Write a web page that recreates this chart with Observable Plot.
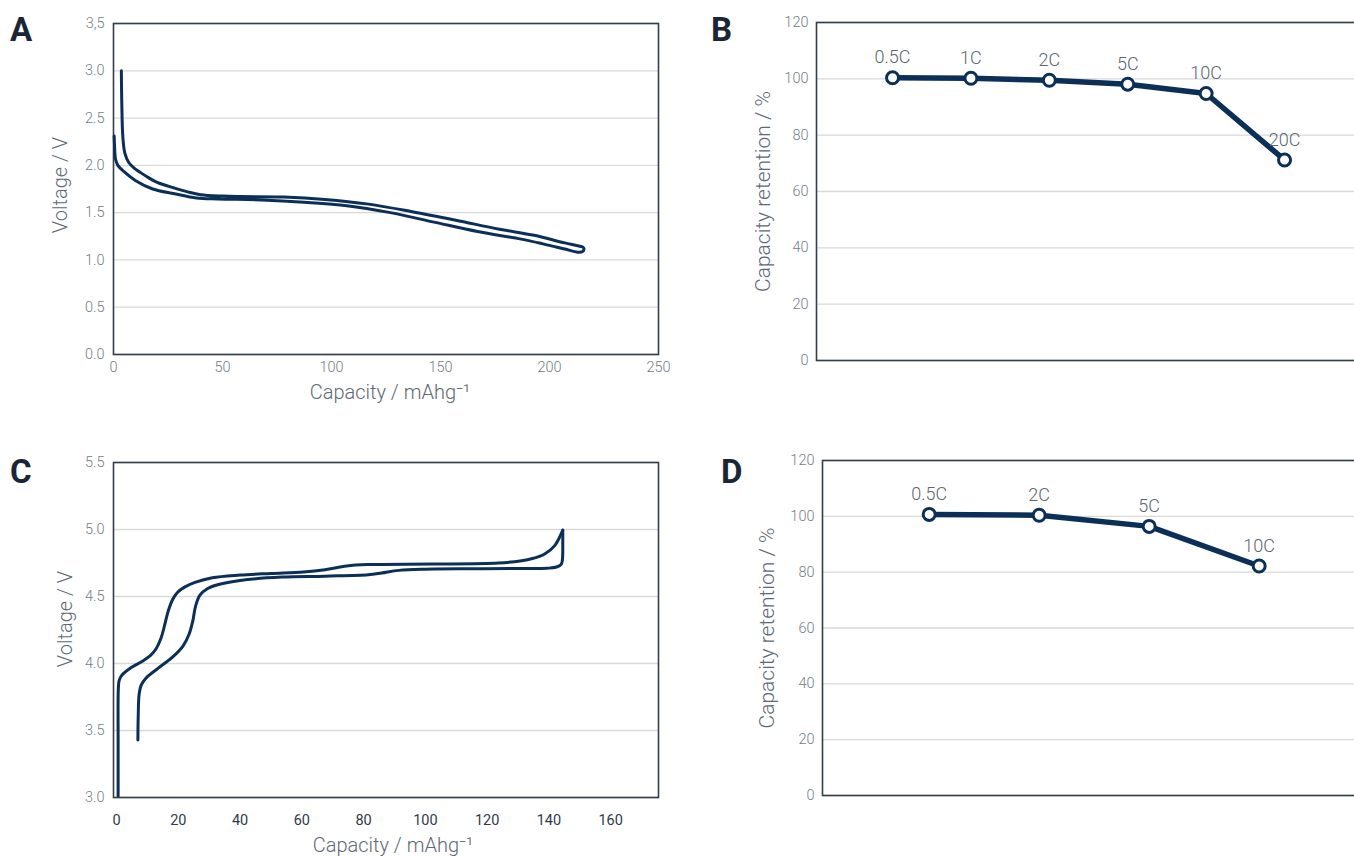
<!DOCTYPE html>
<html><head><meta charset="utf-8">
<script src="https://cdn.jsdelivr.net/npm/d3@7"></script>
<script src="https://cdn.jsdelivr.net/npm/@observablehq/plot@0.6"></script>
<style>
html,body{margin:0;padding:0;background:#fff;overflow:hidden;width:1354px;height:856px;}
#page{position:relative;width:1354px;height:856px;overflow:hidden;background:#fff;}
.panel{position:absolute;}
.panel svg{display:block;max-width:none !important;overflow:visible;}
#letters{position:absolute;left:0;top:0;pointer-events:none;}
</style></head>
<body><div id="page">
<div class="panel" id="pA" style="left:0;top:0;width:680px;"></div>
<div class="panel" id="pB" style="left:700px;top:0;width:680px;"></div>
<div class="panel" id="pC" style="left:0;top:440px;width:680px;"></div>
<div class="panel" id="pD" style="left:700px;top:440px;width:680px;"></div>
<svg id="letters" width="1354" height="856" font-family="Roboto, 'Open Sans', sans-serif" font-weight="700" font-size="33" fill="#1a2636">
<text x="10" y="41">A</text><text x="711" y="41">B</text><text x="10" y="483">C</text><text x="721" y="483">D</text>
</svg>
</div>
<script>
// ---------- Panel A: discharge profiles ----------
const capA_upper  = [3.6, 3.7, 3.9, 4.1, 4.5, 5.2, 7, 9.5, 12, 16, 20, 28, 34, 40, 50, 58, 78, 97, 117, 137, 157, 177, 193, 207, 212, 214.5];
const voltA_upper = [3.00, 2.80, 2.55, 2.38, 2.24, 2.13, 2.03, 1.97, 1.93, 1.87, 1.82, 1.76, 1.72, 1.69, 1.675, 1.67, 1.665, 1.64, 1.59, 1.51, 1.42, 1.325, 1.26, 1.18, 1.155, 1.142];
const capA_tip    = [215.5, 215.8, 215.2];
const voltA_tip   = [1.132, 1.11, 1.088];
const capA_lower  = [0.3, 0.4, 0.6, 0.9, 2, 5, 10, 18, 28, 38, 48, 68, 87.5, 107, 127, 147, 167, 187, 197, 207, 213];
const voltA_lower = [2.31, 2.25, 2.15, 2.07, 2.00, 1.93, 1.84, 1.75, 1.70, 1.655, 1.645, 1.634, 1.61, 1.574, 1.50, 1.40, 1.30, 1.22, 1.17, 1.115, 1.082];
const xTicksA = [0, 50, 100, 150, 200, 250];
const yTicksA = [0, 0.5, 1, 1.5, 2, 2.5, 3, 3.5];
const yTickLabelsA = ["0.0", "0.5", "1.0", "1.5", "2.0", "2.5", "3.0", "3,5"];

// ---------- Panel B: rate capability ----------
const ratesB = ["0.5C", "1C", "2C", "5C", "10C", "20C"];
const retentionB = [100.4, 100.2, 99.5, 98.1, 94.8, 71.2];
const yTicksB = [0, 20, 40, 60, 80, 100, 120];

// ---------- Panel C: charge / discharge profiles ----------
const capC_charge  = [0.5, 0.5, 0.55, 0.8, 1.6, 4.4, 8.2, 11.0, 12.8, 14.4, 15.5, 16.7, 18.2, 19.7, 22, 25.4, 31, 40, 50, 60.5, 67.5, 74.5, 81.5, 102.6, 123.6, 130.7, 135, 138.5, 141.9, 144.5];
const voltC_charge = [2.98, 3.40, 3.80, 3.87, 3.91, 3.965, 4.015, 4.06, 4.11, 4.19, 4.28, 4.39, 4.48, 4.53, 4.57, 4.605, 4.64, 4.66, 4.672, 4.683, 4.70, 4.728, 4.738, 4.742, 4.75, 4.765, 4.785, 4.815, 4.88, 4.995];
const capC_second  = [6.9, 7.0, 7.3, 8.0, 9.5, 13.2, 18.0, 21.5, 23.5, 24.7, 25.6, 27.0, 29.5, 33, 40, 53.5, 67.5, 81.5, 85.8, 91.4, 99.8, 116.6, 130.7, 139.5, 142.5, 144.0, 144.4, 144.5, 144.5];
const voltC_second = [3.43, 3.60, 3.77, 3.84, 3.89, 3.96, 4.045, 4.13, 4.22, 4.32, 4.43, 4.51, 4.56, 4.59, 4.62, 4.645, 4.652, 4.662, 4.675, 4.695, 4.704, 4.707, 4.709, 4.711, 4.72, 4.74, 4.78, 4.90, 4.995];
const xTicksC = [0, 20, 40, 60, 80, 100, 120, 140, 160];
const yTicksC = [3.0, 3.5, 4.0, 4.5, 5.0, 5.5];
const yTickLabelsC = ["3.0", "3.5", "4.0", "4.5", "5.0", "5.5"];

// ---------- Panel D: rate capability ----------
const ratesD = ["0.5C", "2C", "5C", "10C"];
const retentionD = [100.7, 100.4, 96.4, 82.2];
const yTicksD = [0, 20, 40, 60, 80, 100, 120];

// ---------- styles ----------
const FONT = "Roboto, 'Open Sans', sans-serif";
const NAVY = "#0b2f56";
const GRID = "#d9d9d9";
const FRAME = "#333e4a";
const TICK = "#737d87";
const TITLE = "#5e6974";
const LABEL = "#5b6571";
const XTITLE = "Capacity / mAhg\u207B\u00B9";
const TICK_FS = 14.5;

const zipPts = (xs, ys) => xs.map((c, i) => ({c, v: ys[i]}));
const pathA = [...zipPts(capA_upper, voltA_upper), ...zipPts(capA_tip, voltA_tip), ...zipPts(capA_lower, voltA_lower).reverse()];
const chargeC = zipPts(capC_charge, voltC_charge);
const secondC = zipPts(capC_second, voltC_second);
const tableB = ratesB.map((r, i) => ({i, rate: r, v: retentionB[i]}));
const tableD = ratesD.map((r, i) => ({i, rate: r, v: retentionD[i]}));

const baseStyle = {fontFamily: FONT, fontSize: TICK_FS + "px", fontWeight: 300, color: TICK, background: "transparent", overflow: "visible"};

function yTitle(t, dx, dy, fs) {
  return Plot.text([t], {frameAnchor: "left", rotate: -90, dx, dy, textAnchor: "middle", lineAnchor: "middle", fontSize: fs, fontWeight: 300, fill: TITLE, fontFamily: FONT});
}
function xTitle(t, dx, dy) {
  return Plot.text([t], {frameAnchor: "bottom", dx, dy, textAnchor: "middle", lineAnchor: "middle", fontSize: 20, fontWeight: 300, fill: TITLE, fontFamily: FONT});
}

const plotA = Plot.plot({
  width: 680, height: 410, marginLeft: 113, marginRight: 22, marginTop: 23, marginBottom: 56,
  style: baseStyle,
  x: {domain: [0, 250], label: null},
  y: {domain: [0, 3.5], label: null},
  marks: [
    Plot.ruleY(yTicksA, {stroke: GRID, strokeWidth: 1.3}),
    Plot.frame({stroke: FRAME, strokeWidth: 1.6}),
    Plot.axisX({ticks: xTicksA, tickSize: 0, tickPadding: 7, label: null, fill: TICK, fontSize: TICK_FS}),
    Plot.axisY({ticks: yTicksA, tickSize: 0, tickPadding: 9, label: null, fill: TICK, fontSize: TICK_FS,
      tickFormat: d => yTickLabelsA[yTicksA.indexOf(d)]}),
    Plot.line(pathA, {x: "c", y: "v", curve: "catmull-rom", stroke: NAVY, strokeWidth: 3, strokeLinejoin: "round", strokeLinecap: "round"}),
    yTitle("Voltage / V", -53, -4, 20),
    xTitle(XTITLE, 4, 38)
  ]
});
document.getElementById("pA").append(plotA);

const plotC = Plot.plot({
  width: 680, height: 416, marginLeft: 113, marginRight: 22, marginTop: 22, marginBottom: 59,
  style: baseStyle,
  x: {domain: [-1, 175.5], label: null},
  y: {domain: [3.0, 5.5], label: null},
  marks: [
    Plot.ruleY(yTicksC, {stroke: GRID, strokeWidth: 1.3}),
    Plot.line(chargeC, {x: "c", y: "v", curve: "catmull-rom", stroke: NAVY, strokeWidth: 3, strokeLinejoin: "round", clip: true}),
    Plot.line(secondC, {x: "c", y: "v", curve: "catmull-rom", stroke: NAVY, strokeWidth: 3, strokeLinejoin: "round", clip: true}),
    Plot.frame({stroke: FRAME, strokeWidth: 1.6}),
    Plot.axisX({ticks: xTicksC, tickSize: 0, tickPadding: 17, label: null, fill: "#2f3b49", fontSize: 14.5, fontWeight: 400}),
    Plot.axisY({ticks: yTicksC, tickSize: 0, tickPadding: 9, label: null, fill: TICK, fontSize: TICK_FS,
      tickFormat: d => yTickLabelsC[yTicksC.indexOf(d)]}),
    yTitle("Voltage / V", -48, -11, 20),
    xTitle(XTITLE, 7, 48)
  ]
});
document.getElementById("pC").append(plotC);

function ratePlot(table, yTicks, opts) {
  return Plot.plot({
    width: 680, height: opts.height, marginLeft: opts.ml, marginRight: 0, marginTop: opts.mt, marginBottom: opts.mb,
    style: baseStyle,
    x: {domain: opts.xdom, label: null, axis: null},
    y: {domain: [0, 120], label: null},
    marks: [
      Plot.ruleY(yTicks, {stroke: GRID, strokeWidth: 1.3}),
      Plot.frame({stroke: FRAME, strokeWidth: 1.6}),
      Plot.axisY({ticks: yTicks, tickSize: 0, tickPadding: 8, label: null, fill: TICK, fontSize: TICK_FS}),
      Plot.line(table, {x: "i", y: "v", stroke: NAVY, strokeWidth: 5.5, strokeLinejoin: "round"}),
      Plot.dot(table, {x: "i", y: "v", r: 6, fill: "white", stroke: NAVY, strokeWidth: 3}),
      Plot.text(table, {x: "i", y: "v", text: "rate", dy: -20, fontSize: 18, fontWeight: 300, fill: LABEL, fontFamily: FONT}),
      yTitle("Capacity retention / %", opts.tdx, 0, 21)
    ]
  });
}
document.getElementById("pB").append(ratePlot(tableB, yTicksB, {height: 385, ml: 116, mt: 22, mb: 25, xdom: [-0.97, 6.224], tdx: -53}));
document.getElementById("pD").append(ratePlot(tableD, yTicksD, {height: 416, ml: 122, mt: 20, mb: 61, xdom: [-0.97, 4.103], tdx: -55}));
</script>
</body></html>
